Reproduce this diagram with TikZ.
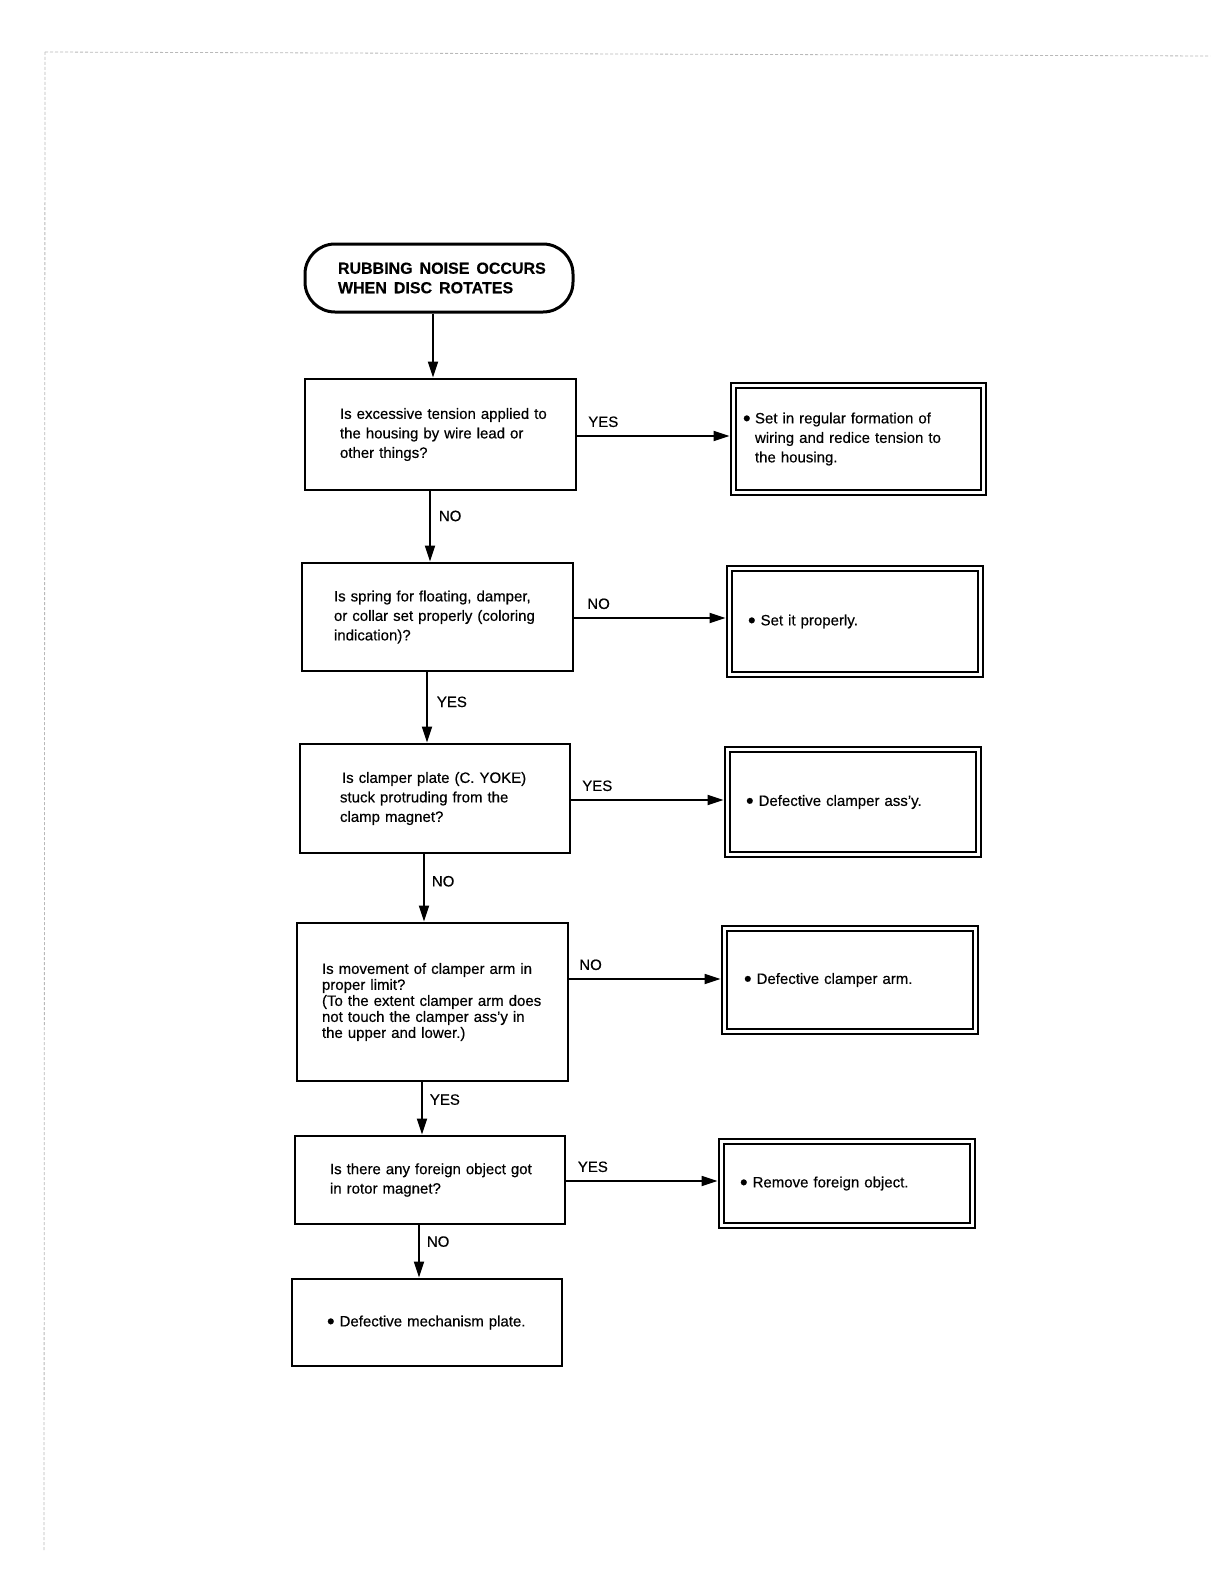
\documentclass[tikz,border=0pt]{standalone}
\usepackage{fontspec}
\setmainfont{Liberation Sans}[FakeBold=0.4]
\usetikzlibrary{arrows.meta,calc}
\newcommand\qfont{\fontsize{15}{19.5}\selectfont}
\newcommand\tightfont{\fontsize{15}{16}\selectfont}
\newcommand\hfont{\fontsize{16}{19.5}\selectfont\bfseries}
\newcommand\bigbul{\raisebox{-2.2pt}{\scalebox{1.45}{\textbullet}}}
\newcommand\bul{\makebox[12pt][l]{\bigbul}}
\begin{document}
\begin{tikzpicture}[x=1pt,y=-1pt,
  qbox/.style={draw, line width=2.8pt, rectangle, align=left, font=\qfont, inner ysep=0pt},
  rbox/.style={draw, line width=2.8pt, rectangle, align=left, font=\qfont, inner ysep=0pt},
  arr/.style={line width=1.8pt, -{Triangle[length=16pt,width=10pt]}},
  lab/.style={font=\qfont, inner sep=1pt},
  scan/.style={gray!55, line width=0.8pt, dash pattern=on 3pt off 2pt}
]
\useasboundingbox[fill=white] (0,0) rectangle (1224,1584);
% scan edge marks
\draw[scan] (45,52) -- (1210,56);
\draw[scan] (45,52) -- (44,1550);

% start
\node[draw, line width=3pt, rectangle, rounded corners=30pt, minimum width=268pt, minimum height=68pt,
      text width=202pt, inner xsep=33pt, align=left, font=\hfont] (s) at (439,278)
  {\mbox{RUBBING\hspace{7pt}NOISE\hspace{7pt}OCCURS}\\\mbox{WHEN\hspace{7pt}DISC\hspace{7pt}ROTATES}};

% question boxes
\node[qbox, minimum width=271pt, minimum height=111pt, text width=201pt, inner xsep=35pt] (b1) at (440.5,434.5)
  {\mbox{Is excessive tension applied to}\\\mbox{the housing by wire lead or}\\\mbox{other things?}};
\node[qbox, minimum width=271pt, minimum height=108pt, text width=207pt, inner xsep=32pt] (b2) at (437.5,617)
  {\mbox{Is spring for floating, damper,}\\\mbox{or collar set properly (coloring}\\\mbox{indication)?}};
\node[qbox, minimum width=270pt, minimum height=109pt, text width=190pt, inner xsep=40pt] (b3) at (435,798.5)
  {\mbox{\hspace*{2pt}Is clamper plate (C. YOKE)}\\\mbox{stuck protruding from the}\\\mbox{clamp magnet?}};
\node[qbox, font=\tightfont, minimum width=271pt, minimum height=158pt, text width=221pt, inner xsep=25pt] (b4) at (432.5,1002)
  {\mbox{Is movement of clamper arm in}\\\mbox{proper limit?}\\\mbox{(To the extent clamper arm does}\\\mbox{not touch the clamper ass’y in}\\\mbox{the upper and lower.)}\\[14pt]};
\node[qbox, minimum width=270pt, minimum height=88pt, text width=200pt, inner xsep=35pt] (b5) at (430,1180)
  {\mbox{Is there any foreign object got}\\\mbox{in rotor magnet?}};
\node[qbox, minimum width=270pt, minimum height=87pt, text width=200pt, inner xsep=35pt] (b6) at (427,1322.5)
  {\mbox{\bigbul\ Defective mechanism plate.}};

% result boxes (double border)
\node[rbox, minimum width=255pt, minimum height=112pt, text width=231pt, inner xsep=12pt] (r1) at (858.5,439)
  {\mbox{\bul Set in regular formation of}\\\mbox{\hspace*{12pt}wiring and redice tension to}\\\mbox{\hspace*{12pt}the housing.}};
\node[rbox, minimum width=256pt, minimum height=111pt, text width=214pt, inner xsep=21pt] (r2) at (855,621.5)
  {\mbox{\bigbul\ Set it properly.}\\[6pt]};
\node[rbox, minimum width=256pt, minimum height=110pt, text width=214pt, inner xsep=21pt] (r3) at (853,802)
  {\mbox{\bigbul\ Defective clamper ass’y.}};
\node[rbox, minimum width=256pt, minimum height=108pt, text width=212pt, inner xsep=22pt] (r4) at (850,980)
  {\mbox{\bigbul\ Defective clamper arm.}\\[4pt]};
\node[rbox, minimum width=256pt, minimum height=89pt, text width=214pt, inner xsep=21pt] (r5) at (847,1183.5)
  {\mbox{\bigbul\ Remove foreign object.}\\[4pt]};
\foreach \r in {r1,r2,r3,r4,r5}{
  \draw[line width=1.3pt] ([shift={(6.5,6.5)}]\r.north west) rectangle ([shift={(-6.5,-6.5)}]\r.south east);
}

% vertical connectors
\draw[arr] ([xshift=-6pt]s.south) -- ([xshift=-6pt]s.south |- b1.north);
\draw[arr] ([xshift=-10.5pt]b1.south) -- node[lab, pos=0.35, right=7pt]{NO} ([xshift=-10.5pt]b1.south |- b2.north);
\draw[arr] ([xshift=-10.5pt]b2.south) -- node[lab, pos=0.42, right=8pt]{YES} ([xshift=-10.5pt]b2.south |- b3.north);
\draw[arr] ([xshift=-11pt]b3.south) -- node[lab, pos=0.40, right=6pt]{NO} ([xshift=-11pt]b3.south |- b4.north);
\draw[arr] ([xshift=-10.5pt]b4.south) -- node[lab, pos=0.33, right=6pt]{YES} ([xshift=-10.5pt]b4.south |- b5.north);
\draw[arr] ([xshift=-11pt]b5.south) -- node[lab, pos=0.31, right=6pt]{NO} ([xshift=-11pt]b5.south |- b6.north);

% horizontal connectors
\draw[arr] ([yshift=-1.5pt]b1.east) -- node[lab, pos=0.17, above=7pt]{YES} ([yshift=-1.5pt]b1.east -| r1.west);
\draw[arr] ([yshift=-1pt]b2.east) -- node[lab, pos=0.16, above=7pt]{NO} ([yshift=-1pt]b2.east -| r2.west);
\draw[arr] ([yshift=-1.5pt]b3.east) -- node[lab, pos=0.17, above=7pt]{YES} ([yshift=-1.5pt]b3.east -| r3.west);
\draw[arr] ([yshift=23pt]b4.east) -- node[lab, pos=0.14, above=7pt]{NO} ([yshift=23pt]b4.east -| r4.west);
\draw[arr] ([yshift=-1pt]b5.east) -- node[lab, pos=0.175, above=7pt]{YES} ([yshift=-1pt]b5.east -| r5.west);
\end{tikzpicture}
\end{document}
